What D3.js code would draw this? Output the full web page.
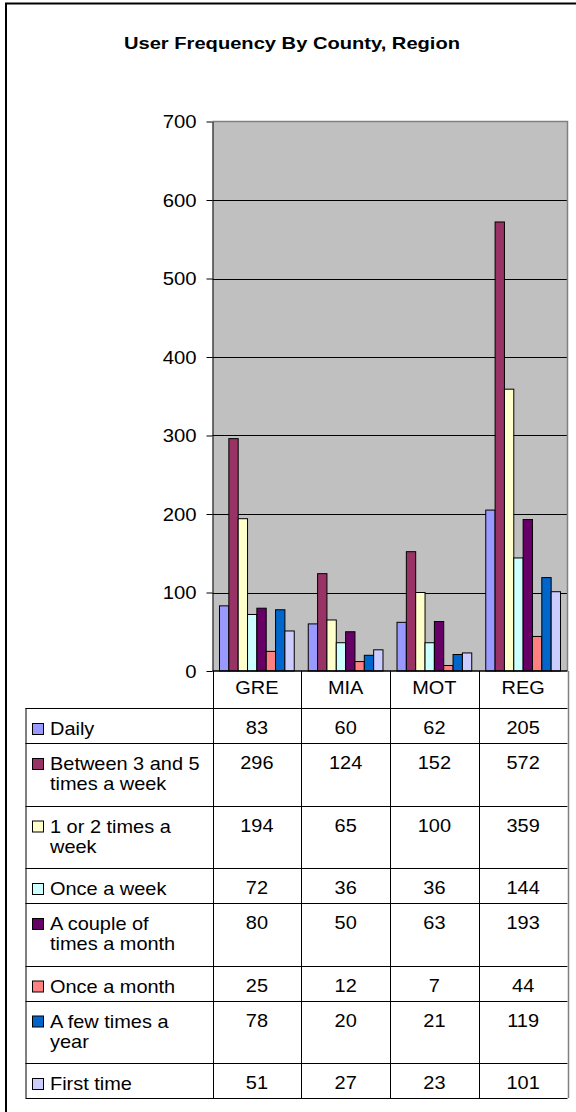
<!DOCTYPE html>
<html><head><meta charset="utf-8">
<script src="https://cdn.jsdelivr.net/npm/d3@7"></script>
<style>body{margin:0;background:#fff}svg{display:block}text{font-family:"Liberation Sans",Arial,sans-serif;fill:#000}</style>
</head><body>
<svg id="c" width="576" height="1112"></svg>
<script>
const title = "User Frequency By County, Region";
const categories = ["GRE", "MIA", "MOT", "REG"];
const seriesNames = ["Daily", "Between 3 and 5 times a week", "1 or 2 times a week", "Once a week",
  "A couple of times a month", "Once a month", "A few times a year", "First time"];
const seriesColors = ["#9999FF", "#993366", "#FFFFCC", "#CCFFFF", "#660066", "#FF8080", "#0066CC", "#CCCCFF"];
const daily = [83, 60, 62, 205];
const between3and5 = [296, 124, 152, 572];
const oneOrTwo = [194, 65, 100, 359];
const onceWeek = [72, 36, 36, 144];
const coupleMonth = [80, 50, 63, 193];
const onceMonth = [25, 12, 7, 44];
const fewYear = [78, 20, 21, 119];
const firstTime = [51, 27, 23, 101];
const seriesValues = [daily, between3and5, oneOrTwo, onceWeek, coupleMonth, onceMonth, fewYear, firstTime];
const yTicks = [0, 100, 200, 300, 400, 500, 600, 700];

const svg = d3.select("#c");
const SX = 1.14, FS = 17.5;
function txt(g, s, x, y, anchor, opts = {}) {
  return g.append("text").text(s)
    .attr("transform", `translate(${x},${y}) scale(${opts.sx || SX},1)`)
    .attr("text-anchor", anchor || "start")
    .style("font-size", (opts.fs || FS) + "px")
    .style("font-weight", opts.bold ? "bold" : "normal");
}

// outer frame
svg.append("rect").attr("x", 6).attr("y", 3.5).attr("width", 700).attr("height", 1300)
  .attr("fill", "none").attr("stroke", "#000").attr("stroke-width", 2);

// title
txt(svg, title, 292, 49, "middle", {bold: true, fs: 16.5, sx: 1.22});

const L = 212.5, R = 567.5, T = 121.5, B = 671;
const y = d3.scaleLinear().domain([0, 700]).range([B, T]);
const x0 = d3.scaleBand().domain(categories).range([L, R]).padding(0);
const x1 = d3.scaleBand().domain(d3.range(seriesNames.length)).range([0, x0.bandwidth()]).paddingInner(0).paddingOuter(0.75);

// plot area
svg.append("rect").attr("x", L).attr("y", T).attr("width", R - L).attr("height", B - T).attr("fill", "#C0C0C0");
// gridlines
svg.append("g").selectAll("line").data(yTicks.filter(v => v > 0 && v < 700)).join("line")
  .attr("x1", L).attr("x2", R).attr("y1", d => Math.round(y(d)) + 0.5).attr("y2", d => Math.round(y(d)) + 0.5)
  .attr("stroke", "#000").attr("stroke-width", 1);
// plot border top/right
svg.append("path").attr("d", `M${L},${T}H${R}V${B}`).attr("fill", "none").attr("stroke", "#808080").attr("stroke-width", 1.5);

// bars
const gb = svg.append("g");
categories.forEach((c, ci) => {
  seriesValues.forEach((vals, si) => {
    gb.append("rect")
      .attr("x", x0(c) + x1(si)).attr("y", y(vals[ci]))
      .attr("width", x1.bandwidth()).attr("height", B - y(vals[ci]))
      .attr("fill", seriesColors[si]).attr("stroke", "#000").attr("stroke-width", 1);
  });
});

// y axis
const ax = svg.append("g").attr("transform", `translate(${L},0)`)
  .call(d3.axisLeft(y).tickValues(yTicks).tickSize(6).tickSizeOuter(0));
ax.select(".domain").attr("stroke", "#000");
ax.selectAll(".tick line").attr("stroke", "#000");
ax.selectAll(".tick text").attr("x", null).attr("dy", null).attr("fill", "#000")
  .attr("transform", `translate(-16,6) scale(1.16,1)`)
  .style("font-size", "17.5px").style("font-family", '"Liberation Sans",Arial,sans-serif');

// x axis line
svg.append("line").attr("x1", L).attr("x2", R).attr("y1", B).attr("y2", B).attr("stroke", "#000").attr("stroke-width", 1.5);

// data table
const tbl = svg.append("g");
const legL = 25.5, headerH = 37, lineH = 27.5, rowBase = 7.5;
// wrap labels
const measure = svg.append("text").style("font-size", FS + "px").attr("visibility", "hidden");
function wrap(s, maxW) {
  const words = s.split(" "), lines = [];
  let cur = "";
  words.forEach(w => {
    const t = cur ? cur + " " + w : w;
    measure.text(t);
    if (measure.node().getComputedTextLength() * SX > maxW && cur) { lines.push(cur); cur = w; }
    else cur = t;
  });
  if (cur) lines.push(cur);
  return lines;
}
// measured widths of the two critical strings decide the wrap limit
measure.text("Between 3 and 5"); const wa = measure.node().getComputedTextLength() * SX;
const wrapW = wa + 0.5;
const wrapped = seriesNames.map(s => wrap(s, wrapW));
measure.remove();

// header
categories.forEach(c => {
  txt(tbl, c, x0(c) + x0.bandwidth() / 2, B + 23, "middle");
});
let yy = B + headerH;
const rowTops = [];
wrapped.forEach((lines, si) => {
  rowTops.push(yy);
  const h = rowBase + lines.length * lineH;
  // legend key
  tbl.append("rect").attr("x", 32.5).attr("y", yy + 15.5).attr("width", 11).attr("height", 11)
    .attr("fill", seriesColors[si]).attr("stroke", "#000").attr("stroke-width", 1);
  lines.forEach((ln, li) => txt(tbl, ln, 50, yy + 27 + li * 20, "start"));
  categories.forEach((c, ci) => txt(tbl, String(seriesValues[si][ci]), x0(c) + x0.bandwidth() / 2, yy + 26, "middle"));
  yy += h;
});
const tableBottom = yy;
rowTops.push(tableBottom);
// horizontal lines
tbl.selectAll("line.h").data(rowTops).join("line").attr("class", "h")
  .attr("x1", legL).attr("x2", R).attr("y1", d => Math.round(d) + 0.5).attr("y2", d => Math.round(d) + 0.5)
  .attr("stroke", "#000").attr("stroke-width", 1);
// vertical lines
const vx = categories.map(c => x0(c)).concat([R]);
tbl.selectAll("line.v").data(vx).join("line").attr("class", "v")
  .attr("x1", d => Math.round(d) + 0.5).attr("x2", d => Math.round(d) + 0.5).attr("y1", B).attr("y2", tableBottom)
  .attr("stroke", d => d === R ? "#808080" : "#000").attr("stroke-width", d => d === R ? 1.5 : 1);
tbl.append("line").attr("x1", legL + 0.5).attr("x2", legL + 0.5).attr("y1", rowTops[0]).attr("y2", tableBottom)
  .attr("stroke", "#000").attr("stroke-width", 1);
</script>
</body></html>
